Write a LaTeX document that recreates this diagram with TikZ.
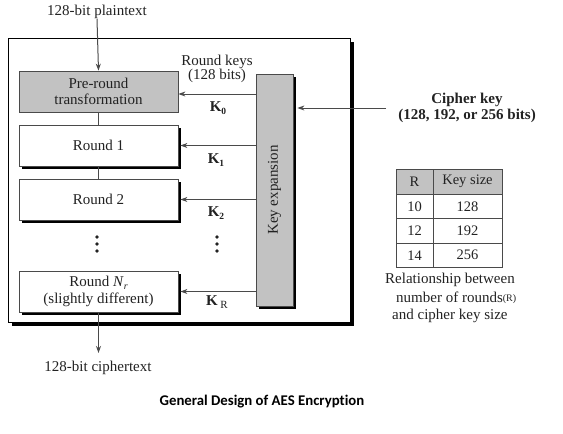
\documentclass[tikz,border=0pt]{standalone}
\usepackage{fontspec}
\setmainfont{Liberation Serif}
\newfontfamily\titlefont[Ligatures=NoCommon]{Carlito}
\usetikzlibrary{shadows,arrows.meta}
\definecolor{boxgray}{HTML}{C2C2C2}
\definecolor{linegray}{HTML}{4A4A4A}
\definecolor{txt}{HTML}{222222}
\tikzset{
  every node/.style={text=txt},
  lbl/.style={font=\fontsize{15}{17}\selectfont, align=center, inner sep=0pt},
  shad/.style={drop shadow={shadow xshift=3pt,shadow yshift=-3pt,fill=black,opacity=1}},
  stagebox/.style={draw=linegray, line width=0.8pt, fill=white, minimum width=159pt, minimum height=41pt, inner sep=0pt, align=center, font=\fontsize{15}{17}\selectfont},
  arr/.style={draw=linegray, line width=1pt, -{Stealth[length=7pt,width=5pt]}},
  conn/.style={draw=linegray, line width=1pt},
  cell/.style={draw=linegray, line width=1pt, minimum height=24.5pt, inner sep=0pt, font=\fontsize{14.5}{16}\selectfont},
}
\begin{document}
\begin{tikzpicture}[x=1pt,y=-1pt]
\useasboundingbox (0,0) rectangle (563,434);
% outer frame
\node[draw=black, line width=0.8pt, fill=white, minimum width=342pt, minimum height=284pt, inner sep=0pt,
  drop shadow={shadow xshift=3.5pt,shadow yshift=-3.5pt,fill=black,opacity=1}] (frame) at (179,180) {};
% input / output texts
\node[lbl] (plain) at (97,12) {128-bit plaintext};
\node[lbl] (cipher) at (98,368) {128-bit ciphertext};
% stage boxes
\node[stagebox, fill=boxgray] (pre) at (98.5,91.5) {Pre-round\\[-1pt]transformation};
\node[stagebox, shad] (r1) at (98.5,145.5) {Round 1};
\node[stagebox, shad] (r2) at (98.5,199.5) {Round 2};
\node[stagebox, shad] (rn) at (98.5,291.5) {Round \textit{N}\raisebox{-0.45ex}{\fontsize{10}{10}\selectfont\textit{r}}\\[0pt](slightly different)};
% key expansion
\node[draw=linegray, line width=0.8pt, fill=boxgray, minimum width=37pt, minimum height=232pt, inner sep=0pt, shad] (kexp) at (274.5,190) {};
\node[lbl, rotate=90] (kexptxt) at (kexp.center) {Key expansion};
% connectors
\draw[arr] (plain.south) -- (pre.north);
\draw[conn] (pre.south) -- (r1.north);
\draw[conn] (r1.south) -- (r2.north);
\coordinate (outend) at (98.5,353);
\draw[arr] (rn.south) -- (outend);
\draw[arr] (kexp.west |- 0,94) -- (pre.east |- 0,94);
\draw[arr] (kexp.west |- r1.east) -- ([xshift=2pt]r1.east);
\draw[arr] (kexp.west |- r2.east) -- ([xshift=2pt]r2.east);
\draw[arr] (kexp.west |- rn.east) -- ([xshift=2pt]rn.east);
% key labels
\node[lbl] (rk) at (217,69) {Round keys\\[-3pt](128 bits)};
\node[lbl] (k0) at (218,108) {\textbf{K}\raisebox{-0.45ex}{\fontsize{9.5}{9.5}\selectfont\textbf{0}}};
\node[lbl] (k1) at (216,160) {\textbf{K}\raisebox{-0.45ex}{\fontsize{9.5}{9.5}\selectfont\textbf{1}}};
\node[lbl] (k2) at (216,213) {\textbf{K}\raisebox{-0.45ex}{\fontsize{9.5}{9.5}\selectfont\textbf{2}}};
\node[lbl] (kr) at (217,302) {\textbf{K}\,\raisebox{-0.45ex}{\fontsize{11}{11}\selectfont R}};
% dots
\foreach \yy in {237,244,251} {
  \fill[txt] (97,\yy) circle (1.8);
  \fill[txt] (217,\yy) circle (1.8);
}
% cipher key
\node[lbl, font=\bfseries\fontsize{15}{17}\selectfont] (ck) at (467,108) {Cipher key\\[-1pt](128, 192, or 256 bits)};
\coordinate (ckstart) at (386,108);
\draw[arr] (ckstart) -- ([xshift=4pt]kexp.east |- ckstart);
% table
\node[cell, fill=boxgray, minimum width=37pt, minimum height=25pt] (h1) at (414.5,181.5) {R};
\node[cell, fill=boxgray, minimum width=69pt, minimum height=25pt] (h2) at (467.5,181.5) {Key size};
\node[cell, minimum width=37pt] (a1) at (414.5,206.25) {10};
\node[cell, minimum width=69pt] (a2) at (467.5,206.25) {128};
\node[cell, minimum width=37pt] (b1) at (414.5,230.75) {12};
\node[cell, minimum width=69pt] (b2) at (467.5,230.75) {192};
\node[cell, minimum width=37pt] (c1) at (414.5,255.25) {14};
\node[cell, minimum width=69pt] (c2) at (467.5,255.25) {256};
\node[lbl, anchor=west] (rel1) at (385,280) {Relationship between};
\node[lbl, anchor=west] (rel2) at (396,298) {number of rounds\raisebox{0.1ex}{\fontsize{10}{10}\selectfont(R)}};
\node[lbl, anchor=west] (rel3) at (392,316) {and cipher key size};
% title
\node[font=\titlefont\bfseries\fontsize{14.8}{16}\selectfont, text=black, inner sep=0pt] (title) at (262,402) {General Design of AES Encryption};
\end{tikzpicture}
\end{document}
